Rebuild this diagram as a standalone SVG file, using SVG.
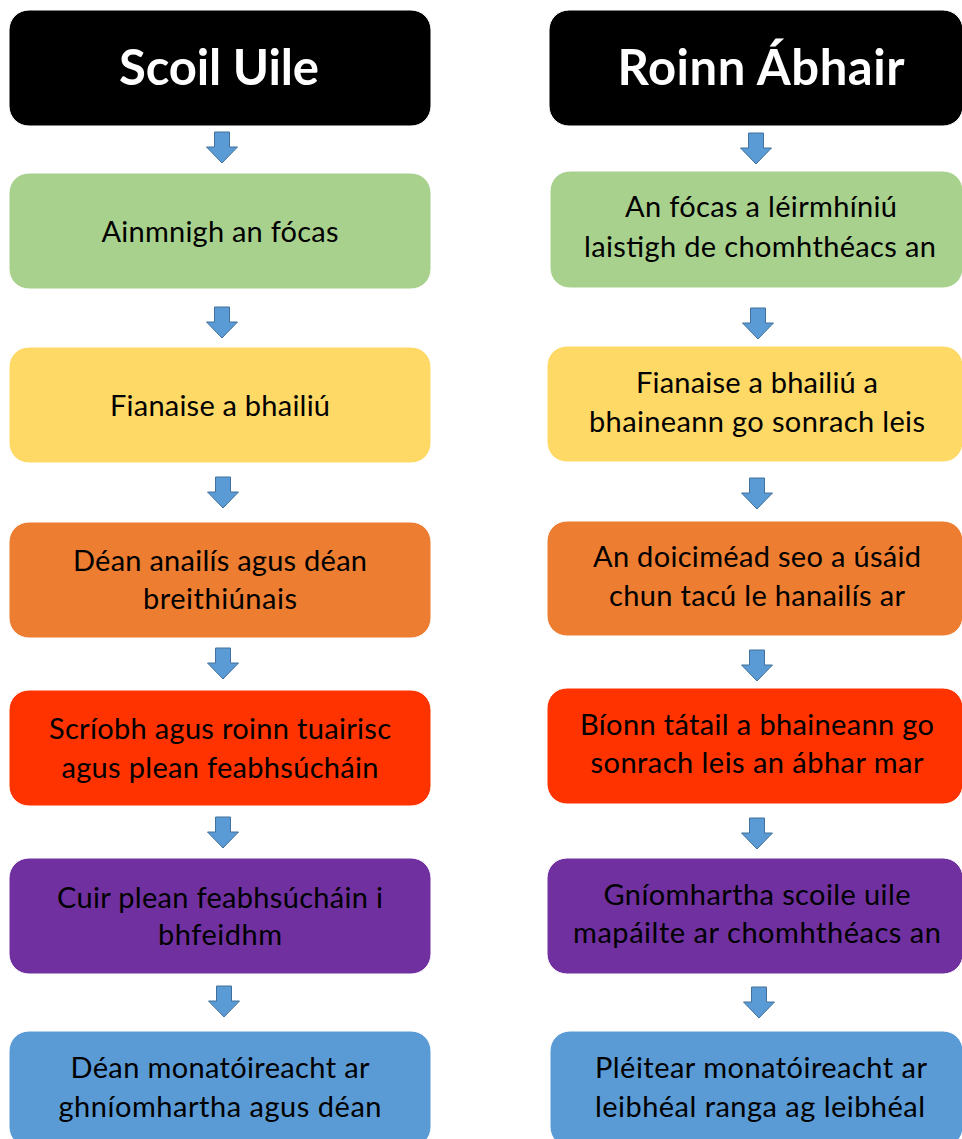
<svg xmlns="http://www.w3.org/2000/svg" width="962" height="1139" viewBox="0 0 962 1139">
<defs>
<style>
.box{stroke:#ffffff;stroke-width:1}
.hdr{fill:#000000}
.g{fill:#A9D18E}.y{fill:#FFD966}.o{fill:#ED7D31}.r{fill:#FF3300}.p{fill:#7030A0}.b{fill:#5B9BD5}
.t{font-family:Lato,"Liberation Sans",sans-serif;font-size:29px;fill:#000000;text-anchor:middle}
.h{font-family:Lato,"Liberation Sans",sans-serif;font-size:49px;font-weight:bold;fill:#ffffff;text-anchor:middle}
.arr{fill:#5B9BD5;stroke:#41719C;stroke-width:1}
</style>
<path id="arrow" d="M-7.5,0 H7.5 V15 H15.5 L0,31 L-15.5,15 H-7.5 Z"/>
</defs>
<rect width="962" height="1139" fill="#ffffff"/>

<g id="connectors">
<use href="#arrow" class="arr" x="222" y="132"/>
<use href="#arrow" class="arr" x="222" y="307"/>
<use href="#arrow" class="arr" x="223" y="477"/>
<use href="#arrow" class="arr" x="223" y="648"/>
<use href="#arrow" class="arr" x="223" y="817"/>
<use href="#arrow" class="arr" x="224" y="986"/>
<use href="#arrow" class="arr" x="756" y="133"/>
<use href="#arrow" class="arr" x="758" y="308"/>
<use href="#arrow" class="arr" x="757" y="478"/>
<use href="#arrow" class="arr" x="757" y="650"/>
<use href="#arrow" class="arr" x="757" y="818"/>
<use href="#arrow" class="arr" x="759" y="987"/>
</g>

<g id="left-header">
<rect class="box hdr" x="9" y="10" width="422" height="116" rx="20"/>
<text class="h" x="219" y="85" textLength="200">Scoil Uile</text>
</g>
<g id="left-1">
<rect class="box g" x="9" y="173" width="422" height="116" rx="20"/>
<text class="t" x="220" y="242" textLength="237">Ainmnigh an fócas</text>
</g>
<g id="left-2">
<rect class="box y" x="9" y="347" width="422" height="116" rx="20"/>
<text class="t" x="220" y="416" textLength="220">Fianaise a bhailiú</text>
</g>
<g id="left-3">
<rect class="box o" x="9" y="522" width="422" height="116" rx="20"/>
<text class="t" x="220" y="571" textLength="294">Déan anailís agus déan</text>
<text class="t" x="220" y="609" textLength="154">breithiúnais</text>
</g>
<g id="left-4">
<rect class="box r" x="9" y="690" width="422" height="116" rx="20"/>
<text class="t" x="220" y="739" textLength="342">Scríobh agus roinn tuairisc</text>
<text class="t" x="220" y="778" textLength="317">agus plean feabhsúcháin</text>
</g>
<g id="left-5">
<rect class="box p" x="9" y="858" width="422" height="116" rx="20"/>
<text class="t" x="220" y="908" textLength="326">Cuir plean feabhsúcháin i</text>
<text class="t" x="220" y="945" textLength="124">bhfeidhm</text>
</g>
<g id="left-6">
<rect class="box b" x="9" y="1031" width="422" height="116" rx="20"/>
<text class="t" x="220" y="1078" textLength="299">Déan monatóireacht ar</text>
<text class="t" x="220" y="1117" textLength="323">ghníomhartha agus déan</text>
</g>

<g id="right-header">
<rect class="box hdr" x="549" y="10" width="414" height="116" rx="20"/>
<text class="h" x="761" y="85" textLength="287">Roinn Ábhair</text>
</g>
<g id="right-1">
<rect class="box g" x="550" y="171" width="413" height="117" rx="20"/>
<text class="t" x="761" y="217" textLength="272">An fócas a léirmhíniú</text>
<text class="t" x="760" y="257" textLength="352">laistigh de chomhthéacs an</text>
</g>
<g id="right-2">
<rect class="box y" x="547" y="346" width="416" height="116" rx="20"/>
<text class="t" x="757" y="393" textLength="242">Fianaise a bhailiú a</text>
<text class="t" x="757" y="432" textLength="336">bhaineann go sonrach leis</text>
</g>
<g id="right-3">
<rect class="box o" x="547" y="521" width="416" height="115" rx="20"/>
<text class="t" x="757" y="567" textLength="328">An doiciméad seo a úsáid</text>
<text class="t" x="757" y="606" textLength="296">chun tacú le hanailís ar</text>
</g>
<g id="right-4">
<rect class="box r" x="547" y="688" width="416" height="116" rx="20"/>
<text class="t" x="757" y="735" textLength="354">Bíonn tátail a bhaineann go</text>
<text class="t" x="757" y="773" textLength="333">sonrach leis an ábhar mar</text>
</g>
<g id="right-5">
<rect class="box p" x="547" y="858" width="416" height="116" rx="20"/>
<text class="t" x="757" y="905" textLength="307">Gníomhartha scoile uile</text>
<text class="t" x="757" y="943" textLength="368">mapáilte ar chomhthéacs an</text>
</g>
<g id="right-6">
<rect class="box b" x="550" y="1031" width="413" height="116" rx="20"/>
<text class="t" x="761" y="1078" textLength="332">Pléitear monatóireacht ar</text>
<text class="t" x="760" y="1117" textLength="330">leibhéal ranga ag leibhéal</text>
</g>
</svg>
